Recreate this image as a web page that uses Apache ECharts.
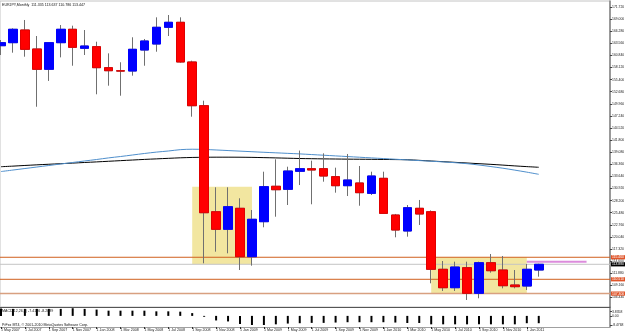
<!DOCTYPE html>
<html><head><meta charset="utf-8">
<script src="https://cdn.jsdelivr.net/npm/echarts@6/dist/echarts.min.js"></script>
<style>html,body{margin:0;padding:0;background:#fff;}#c{width:625px;height:334px;}</style>
</head><body><div id="c"></div>
<script>
const months = ["1 May 2007","1 Jun 2007","1 Jul 2007","1 Aug 2007","1 Sep 2007","1 Oct 2007","1 Nov 2007","1 Dec 2007",
"1 Jan 2008","1 Feb 2008","1 Mar 2008","1 Apr 2008","1 May 2008","1 Jun 2008","1 Jul 2008","1 Aug 2008","1 Sep 2008","1 Oct 2008","1 Nov 2008","1 Dec 2008",
"1 Jan 2009","1 Feb 2009","1 Mar 2009","1 Apr 2009","1 May 2009","1 Jun 2009","1 Jul 2009","1 Aug 2009","1 Sep 2009","1 Oct 2009","1 Nov 2009","1 Dec 2009",
"1 Jan 2010","1 Feb 2010","1 Mar 2010","1 Apr 2010","1 May 2010","1 Jun 2010","1 Jul 2010","1 Aug 2010","1 Sep 2010","1 Oct 2010","1 Nov 2010","1 Dec 2010",
"1 Jan 2011","1 Feb 2011"];
const opens  = [163.02,163.70,166.55,162.28,157.72,163.70,166.71,162.44,162.80,158.08,157.38,157.33,162.05,163.40,167.16,168.28,159.36,149.53,125.70,121.75,
126.47,115.59,123.46,131.42,130.74,134.79,135.37,135.37,133.58,131.55,132.16,129.83,133.21,124.96,121.37,126.47,125.70,112.76,108.62,113.12,107.36,114.24,112.60,109.23,109.00,112.60];
const closes = [163.70,166.71,162.21,157.72,163.70,166.71,162.66,162.95,158.08,157.40,157.32,162.21,164.08,167.16,168.28,159.36,149.53,125.48,121.75,126.83,
115.59,124.00,131.33,130.65,134.85,135.37,135.08,133.73,131.55,132.83,129.98,133.73,125.33,121.59,126.60,125.19,112.76,108.62,113.27,107.36,114.24,112.44,109.07,108.85,112.76,113.88];
const lows   = [160.93,161.45,160.55,149.30,155.10,160.40,158.52,160.93,152.10,154.03,151.78,156.28,158.52,161.67,165.20,159.20,147.06,114.11,116.72,116.35,
112.60,113.57,122.20,124.58,127.21,131.70,127.37,132.45,129.98,129.23,127.05,129.46,125.19,119.95,120.09,122.72,109.61,107.88,107.88,105.86,106.24,112.00,108.48,108.48,108.10,111.10];
const highs  = [164.30,166.93,168.80,165.20,163.80,167.67,167.52,166.55,163.92,161.30,159.30,164.91,164.53,169.40,169.92,169.40,159.65,150.66,131.19,131.19,
128.72,126.09,134.70,137.48,135.82,139.45,137.17,138.83,135.60,138.68,135.98,134.70,134.70,125.20,127.21,128.34,126.00,114.62,114.47,114.47,114.47,116.20,115.75,112.60,113.95,114.00];
const maSlow = [135.82,135.95,136.10,136.24,136.37,136.50,136.63,136.77,136.90,137.04,137.18,137.32,137.46,137.58,137.70,137.82,137.90,137.94,137.96,137.96,
137.95,137.92,137.86,137.80,137.73,137.66,137.62,137.58,137.55,137.52,137.50,137.48,137.45,137.42,137.38,137.25,137.10,136.95,136.80,136.65,136.50,136.35,136.18,136.00,135.84,135.69];
const maFast = [134.73,135.07,135.41,135.75,136.09,136.43,136.77,137.11,137.44,137.80,138.11,138.45,138.79,139.10,139.35,139.65,139.75,139.70,139.58,139.45,
139.32,139.19,139.06,138.94,138.82,138.70,138.55,138.40,138.25,138.10,137.95,137.80,137.65,137.50,137.35,137.20,137.05,136.90,136.72,136.50,136.20,135.85,135.48,135.05,134.60,134.11];
const macd = [6.6,6.3,6.3,6.3,6.3,6.3,6.9,6.3,5.7,4.7,4.7,4.7,4.7,4.1,4.1,3.8,2.5,-0.8,-4.1,-5.0,
-7.3,-8.2,-8.2,-7.6,-6.9,-6.6,-6.3,-6.3,-6.0,-5.7,-5.7,-5.7,-5.7,-6.0,-6.4,-6.4,-7.6,-7.6,-7.6,-7.6,-7.6,-7.6,-7.6,-7.6,-6.6,-6.6];
const priceTicks = [171.720,169.000,166.280,163.560,160.840,158.120,155.400,152.680,149.960,147.240,144.520,141.800,139.080,136.360,
133.640,130.920,128.200,125.480,122.760,120.040,117.320,114.600,111.880,109.160,106.440];
const macdTicks = [3.8358,0,-8.4768];
const dateTicks = [0,2,4,6,8,10,12,14,16,18,20,22,24,26,28,30,32,34,36,38,40,42,44];
const levels = [115.46,110.51,107.30];
const bidLevel = 113.88;
const trendLine = [44,49,114.47];
const boxes = [[16,131.33,21,113.88],[36,115.46,44,107.30]];
const titleText = "EURJPY,Monthly  111.335 113.637 110.786 113.447";
const macdText = "MACD(12,26,9) -7.4186 -8.2089";
const copyText = "PrFxx MT4, \u00a9 2001-2010 MetaQuotes Software Corp.";

const FONT = "Liberation Sans";
const PX = 11.95;
const X0 = -1 / PX, X1 = X0 + 610 / PX;
const PMAX = 173.069, PMIN = 104.283;

const chart = echarts.init(document.getElementById('c'), null, {renderer: 'canvas'});
const candleData = opens.map((o, i) => [i, o, closes[i], lows[i], highs[i]]);
const bodyData = opens.map((o, i) => [i, o, closes[i], Math.min(o, closes[i]), Math.max(o, closes[i])]);
const lvlColors = ['#d0601e', '#d0601e', '#d8a080'];
const smallTxt = {fontSize: 3.6, fontWeight: 'normal', color: '#111', fontFamily: FONT};
const hLine = (name, value, color, width, bg) => ({
  type: 'line', name, xAxisIndex: 0, yAxisIndex: 0, z: 2, color,
  data: [[X0, value], [X1, value]], showSymbol: false, symbol: 'none', silent: true,
  lineStyle: {color, width, type: 'solid'},
  endLabel: {show: true, distance: 1, formatter: p => Number(p.value[1]).toFixed(3), color: '#fff',
    backgroundColor: bg, padding: [0.6, 1, 0.6, 1], fontSize: 3.4, fontFamily: FONT}
});

chart.setOption({
  animation: false,
  backgroundColor: '#ffffff',
  title: [
    {text: titleText, left: 2, top: 2.5, padding: 0, textStyle: smallTxt},
    {text: macdText, left: 2, top: 309, padding: 0, textStyle: smallTxt},
    {text: copyText, left: 2, top: 322.5, padding: 0, textStyle: smallTxt}
  ],
  grid: [
    {left: 0, right: 15, top: 1, height: 306, show: true, borderColor: '#c4c4c4', borderWidth: 1, containLabel: false, outerBoundsMode: 'none'},
    {left: 0, right: 15, top: 307, height: 20, show: false, containLabel: false, outerBoundsMode: 'none'}
  ],
  xAxis: [
    {gridIndex: 0, type: 'value', min: X0, max: X1, show: false},
    {gridIndex: 1, type: 'value', min: X0, max: X1, position: 'bottom',
      axisLine: {show: true, onZero: false, lineStyle: {color: '#a0a0a0', width: 1}},
      axisTick: {show: true, length: 2, inside: false, customValues: dateTicks, lineStyle: {color: '#333'}},
      splitLine: {show: false},
      axisLabel: {show: true, customValues: dateTicks, formatter: v => months[Math.round(v)] || '',
        align: 'left', margin: 1, fontSize: 3.6, color: '#222', fontFamily: FONT, hideOverlap: false}},
    {gridIndex: 1, type: 'value', min: X0, max: X1, position: 'top',
      axisLine: {show: true, onZero: false, lineStyle: {color: '#555', width: 1}},
      axisTick: {show: false}, axisLabel: {show: false}, splitLine: {show: false}}
  ],
  yAxis: [
    {gridIndex: 0, type: 'value', position: 'right', min: PMIN, max: PMAX, scale: true,
      axisLine: {show: true, onZero: false, lineStyle: {color: '#808080', width: 1.5}},
      axisTick: {show: true, length: 2, customValues: priceTicks, lineStyle: {color: '#444'}},
      splitLine: {show: false},
      axisLabel: {show: true, customValues: priceTicks, formatter: v => v.toFixed(3), margin: 2,
        fontSize: 3.4, color: '#222', fontFamily: FONT}},
    {gridIndex: 1, type: 'value', position: 'right', min: -10, max: 8,
      axisLine: {show: true, onZero: false, lineStyle: {color: '#808080', width: 1.5}},
      axisTick: {show: true, length: 2, customValues: macdTicks, lineStyle: {color: '#444'}},
      splitLine: {show: false},
      axisLabel: {show: true, customValues: macdTicks, formatter: v => v === 0 ? '0.00' : String(v), margin: 2,
        fontSize: 3.4, color: '#222', fontFamily: FONT}}
  ],
  series: [
    {type: 'line', name: 'zones', xAxisIndex: 0, yAxisIndex: 0, z: 1, data: [], color: '#f2e6a0',
      markArea: {silent: true, itemStyle: {color: '#f2e6a0', opacity: 1}, label: {show: false},
        data: boxes.map(b => [{coord: [b[0], b[1]]}, {coord: [b[2], b[3]]}])}},
    hLine('lvl0', levels[0], lvlColors[0], 1, '#e0552a'),
    hLine('lvl1', levels[1], lvlColors[1], 1, '#e0552a'),
    hLine('lvl2', levels[2], lvlColors[2], 1.5, '#e0552a'),
    hLine('bid', bidLevel, '#c4c4c4', 1, '#000'),
    {type: 'line', name: 'trend', xAxisIndex: 0, yAxisIndex: 0, z: 2, color: '#dc8cdc', silent: true,
      data: [[trendLine[0], trendLine[2]], [trendLine[1], trendLine[2]]], showSymbol: false, symbol: 'none',
      lineStyle: {color: '#dc8cdc', width: 2}},
    {type: 'line', name: 'slowMA', xAxisIndex: 0, yAxisIndex: 0, z: 2, color: '#000',
      data: maSlow.map((v, i) => [i, v]), showSymbol: false, symbol: 'none', smooth: 0.3,
      lineStyle: {color: '#000', width: 1}},
    {type: 'line', name: 'fastMA', xAxisIndex: 0, yAxisIndex: 0, z: 2, color: '#4f8fcc',
      data: maFast.map((v, i) => [i, v]), showSymbol: false, symbol: 'none', smooth: 0.3,
      lineStyle: {color: '#4f8fcc', width: 1}},
    {type: 'candlestick', name: 'wicks', xAxisIndex: 0, yAxisIndex: 0, z: 3, barWidth: 9,
      data: candleData,
      itemStyle: {color: '#0000ff', color0: '#ff0000', borderColor: '#707070', borderColor0: '#707070', borderWidth: 1}},
    {type: 'candlestick', name: 'bodies', xAxisIndex: 0, yAxisIndex: 0, z: 4, barWidth: 9,
      data: bodyData,
      itemStyle: {color: '#0000ff', color0: '#ff0000', borderColor: '#0000ff', borderColor0: '#e00000', borderWidth: 1}},
    {type: 'bar', name: 'MACD', xAxisIndex: 1, yAxisIndex: 1, barWidth: 2, color: '#000',
      data: macd.map((v, i) => [i, v]), itemStyle: {color: '#000'}}
  ]
});
</script>
</body></html>
